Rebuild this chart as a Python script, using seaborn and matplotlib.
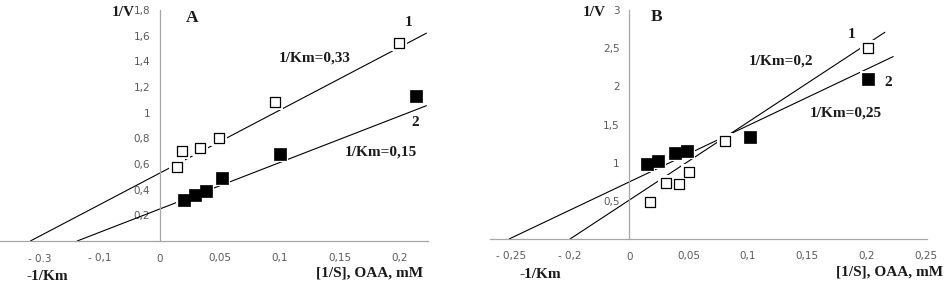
import numpy as np
import pandas as pd
import matplotlib
matplotlib.use("Agg")
import matplotlib.pyplot as plt
import seaborn as sns

sns.set_style("white")
plt.rcParams['font.family'] = ['DejaVu Sans']

# ---------------- data ----------------
# Panel A
a_x1 = [0.014, 0.018, 0.033, 0.049, 0.096, 0.199]
a_y1 = [0.58, 0.70, 0.726, 0.80, 1.087, 1.54]
a_x2 = [0.020, 0.029, 0.038, 0.052, 0.100, 0.213]
a_y2 = [0.317, 0.358, 0.387, 0.49, 0.677, 1.13]
a_fit_x0 = [-0.108, -0.069]     # x-intercepts of trend lines (series 1, 2)
a_fit_b = [0.53, 0.25]          # y-intercepts
a_fit_xend = [0.222, 0.222]

# Panel B
b_x1 = [0.0175, 0.031, 0.0416, 0.0506, 0.0807, 0.2016]
b_y1 = [0.48, 0.74, 0.727, 0.884, 1.289, 2.50]
b_x2 = [0.0149, 0.0242, 0.0388, 0.0487, 0.1018, 0.2016]
b_y2 = [0.988, 1.027, 1.127, 1.158, 1.34, 2.09]
b_fit_x0 = [-0.050, -0.1014]
b_fit_b = [0.51, 0.748]
b_fit_xend = [0.2155, 0.2226]

a_xticks = [-0.1, -0.05, 0, 0.05, 0.1, 0.15, 0.2]
a_xlabels = ["- 0.3", "- 0,1", "0", "0,05", "0,1", "0,15", "0,2"]
a_yticks = [0.2, 0.4, 0.6, 0.8, 1.0, 1.2, 1.4, 1.6, 1.8]
a_ylabels = ["0,2", "0,4", "0,6", "0,8", "1", "1,2", "1,4", "1,6", "1,8"]

b_xticks = [-0.1, -0.05, 0, 0.05, 0.1, 0.15, 0.2, 0.25]
b_xlabels = ["- 0,25", "- 0,2", "0", "0,05", "0,1", "0,15", "0,2", "0,25"]
b_yticks = [0.5, 1.0, 1.5, 2.0, 2.5, 3.0]
b_ylabels = ["0,5", "1", "1,5", "2", "2,5", "3"]

W, H = 948, 290
fig = plt.figure(figsize=(W / 100, H / 100), dpi=100)

axA = fig.add_axes([0 / W, (H - 241) / H, 428 / W, 231 / H])
axB = fig.add_axes([490 / W, (H - 239) / H, 436.7 / W, 229 / H])

grey = "#a6a6a6"
tickc = "#595959"
serif = ['Liberation Serif', 'DejaVu Serif']


def draw_panel(ax, x1, y1, x2, y2, fx0, fb, fxend, xlim, ylim,
               xticks, xlabels, yticks, ylabels):
    # trend lines
    for x0, b, xe in zip(fx0, fb, fxend):
        slope = b / (-x0)
        xs = np.array([x0, xe])
        df = pd.DataFrame({"x": xs, "y": b + slope * xs})
        sns.lineplot(data=df, x="x", y="y", ax=ax, color="black",
                     linewidth=0.8, zorder=2, estimator=None, sort=False)
    # white halos (gaps in lines around markers)
    halo = pd.DataFrame({"x": list(x1) + list(x2), "y": list(y1) + list(y2)})
    sns.scatterplot(data=halo, x="x", y="y", ax=ax, marker="s", s=140,
                    color="white", edgecolor="white", linewidth=0, zorder=3)
    d1 = pd.DataFrame({"x": x1, "y": y1})
    d2 = pd.DataFrame({"x": x2, "y": y2})
    sns.scatterplot(data=d1, x="x", y="y", ax=ax, marker="s", s=62,
                    color="white", edgecolor="black", linewidth=0.9, zorder=4)
    sns.scatterplot(data=d2, x="x", y="y", ax=ax, marker="s", s=70,
                    color="black", edgecolor="black", linewidth=0.5, zorder=4)

    ax.set_xlim(*xlim)
    ax.set_ylim(*ylim)
    ax.set_xlabel("")
    ax.set_ylabel("")
    ax.set_facecolor("none")
    for s in ["top", "right"]:
        ax.spines[s].set_visible(False)
    ax.spines["left"].set_position(("data", 0))
    ax.spines["bottom"].set_position(("data", 0))
    for s in ["left", "bottom"]:
        ax.spines[s].set_color(grey)
        ax.spines[s].set_linewidth(0.9)
    ax.set_xticks(xticks)
    ax.set_xticklabels(xlabels)
    ax.set_yticks(yticks)
    ax.set_yticklabels(ylabels)
    ax.tick_params(axis="both", direction="out", length=3, width=0.8,
                   color=grey, labelcolor=tickc, labelsize=7.5)
    ax.tick_params(axis="x", pad=6)
    ax.tick_params(axis="y", pad=4)


draw_panel(axA, a_x1, a_y1, a_x2, a_y2, a_fit_x0, a_fit_b, a_fit_xend,
           (-0.1333, 0.2233), (0, 1.8), a_xticks, a_xlabels, a_yticks, a_ylabels)
draw_panel(axB, b_x1, b_y1, b_x2, b_y2, b_fit_x0, b_fit_b, b_fit_xend,
           (-0.1175, 0.2508), (0, 3.0), b_xticks, b_xlabels, b_yticks, b_ylabels)

fs = 11


def ftext(px, py, s, ha="center", size=fs):
    fig.text(px / W, 1 - py / H, s, ha=ha, va="center", fontsize=size,
             fontweight="bold", family=serif, color="#1a1a1a")


# Panel A texts
ftext(123, 12, "1/V")
ftext(192, 18, "A", size=12.5)
ftext(315, 58, "1/Km=0,33")
ftext(409, 23, "1")
ftext(415, 122, "2")
ftext(381, 152, "1/Km=0,15")
ftext(47, 276, "-1/Km")
ftext(370, 273, "[1/S], OAA, mM")

# Panel B texts
ftext(594, 12, "1/V")
ftext(657, 17, "B", size=12.5)
ftext(852, 34, "1")
ftext(781, 61, "1/Km=0,2")
ftext(888, 82, "2")
ftext(846, 113, "1/Km=0,25")
ftext(540, 274, "-1/Km")
ftext(890, 272, "[1/S], OAA, mM")

fig.savefig("out.png", dpi=100, facecolor="white")
